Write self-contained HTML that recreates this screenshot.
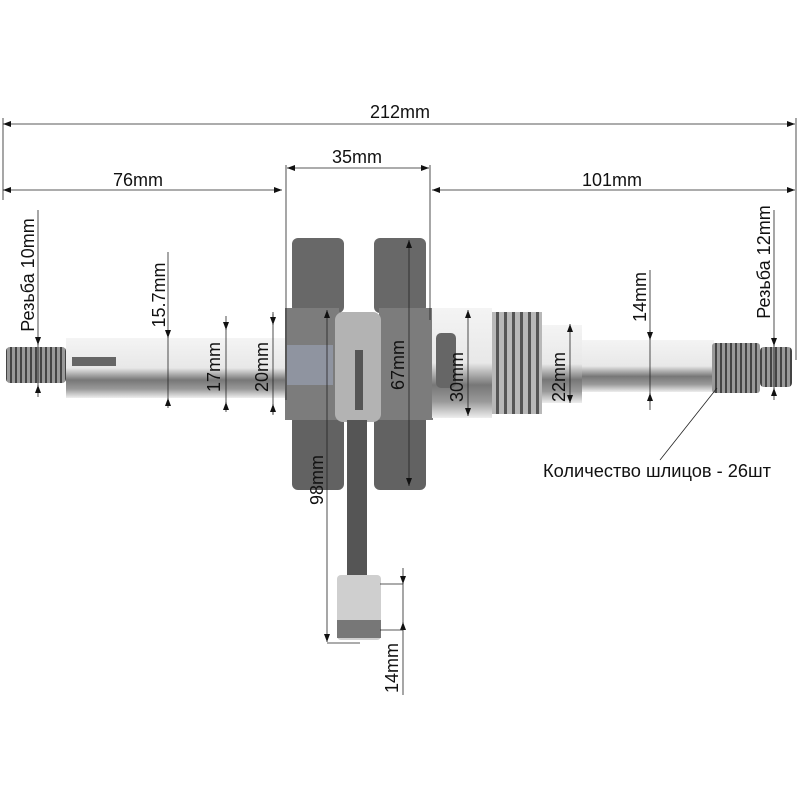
<!DOCTYPE html>
<html><head><meta charset="utf-8"><style>
html,body{margin:0;padding:0;background:#fff;}
svg{display:block;}
text{font-family:"Liberation Sans",sans-serif;font-size:18px;fill:#111;}
</style></head><body>
<svg width="800" height="800" viewBox="0 0 800 800" xmlns="http://www.w3.org/2000/svg">
<defs>
<linearGradient id="sh" x1="0" y1="0" x2="0" y2="1">
<stop offset="0" stop-color="#f4f4f4"/><stop offset="0.5" stop-color="#e8e8e8"/><stop offset="0.7" stop-color="#777"/><stop offset="0.85" stop-color="#999"/><stop offset="1" stop-color="#eee"/></linearGradient>
<pattern id="thr" width="5" height="10" patternUnits="userSpaceOnUse"><rect width="5" height="10" fill="#999"/><rect width="2" height="10" fill="#444"/></pattern>
<pattern id="thr2" width="8" height="10" patternUnits="userSpaceOnUse"><rect width="8" height="10" fill="#b8b8b8"/><rect width="3" height="10" fill="#555"/></pattern>
<marker id="a" markerWidth="8" markerHeight="6" refX="8" refY="3" orient="auto-start-reverse" markerUnits="userSpaceOnUse"><path d="M0,0 L8,3 L0,6z" fill="#111"/></marker>
</defs>
<rect x="66" y="338" width="222" height="60" fill="url(#sh)"/>
<rect x="72" y="357" width="44" height="9" fill="#666"/>
<rect x="6" y="347" width="60" height="36" rx="4" fill="url(#thr)"/>
<rect x="292" y="238" width="52" height="75" rx="6" fill="#686868"/>
<rect x="374" y="238" width="52" height="75" rx="6" fill="#686868"/>
<rect x="292" y="415" width="52" height="75" rx="6" fill="#626262"/>
<rect x="374" y="415" width="52" height="75" rx="6" fill="#626262"/>
<rect x="285" y="308" width="54" height="112" fill="#7c7c7c"/>
<rect x="379" y="308" width="54" height="112" fill="#7c7c7c"/>
<rect x="287" y="345" width="46" height="40" fill="#8f94a0"/>
<rect x="335" y="312" width="46" height="110" rx="8" fill="#b3b3b3"/>
<rect x="355" y="350" width="8" height="60" fill="#555"/>
<rect x="347" y="420" width="20" height="160" fill="#555"/>
<rect x="337" y="575" width="44" height="65" rx="4" fill="#cfcfcf"/>
<rect x="337" y="620" width="44" height="18" fill="#777"/>
<rect x="432" y="308" width="60" height="110" fill="url(#sh)"/>
<rect x="436" y="333" width="20" height="55" rx="5" fill="#666"/>
<rect x="492" y="312" width="50" height="102" fill="url(#thr2)"/>
<rect x="542" y="325" width="40" height="78" fill="url(#sh)"/>
<rect x="582" y="340" width="132" height="52" fill="url(#sh)"/>
<rect x="712" y="343" width="48" height="50" rx="3" fill="url(#thr)"/>
<rect x="760" y="347" width="32" height="40" rx="4" fill="url(#thr)"/>
<g stroke="#222" stroke-width="0.8" fill="none">
<line x1="3" y1="124" x2="795" y2="124" marker-start="url(#a)" marker-end="url(#a)"/>
<line x1="3" y1="190" x2="282" y2="190" marker-start="url(#a)" marker-end="url(#a)"/>
<line x1="287" y1="168" x2="429" y2="168" marker-start="url(#a)" marker-end="url(#a)"/>
<line x1="432" y1="190" x2="795" y2="190" marker-start="url(#a)" marker-end="url(#a)"/>
<line x1="286" y1="165" x2="286" y2="400"/>
<line x1="430" y1="165" x2="430" y2="320"/>
<line x1="3" y1="118" x2="3" y2="200"/>
<line x1="796" y1="118" x2="796" y2="360"/>
<line x1="38" y1="210" x2="38" y2="397"/>
<line x1="38" y1="338" x2="38" y2="345" marker-end="url(#a)"/>
<line x1="38" y1="392" x2="38" y2="385" marker-end="url(#a)"/>
<line x1="168" y1="252" x2="168" y2="408"/>
<line x1="168" y1="330" x2="168" y2="338" marker-end="url(#a)"/>
<line x1="168" y1="405" x2="168" y2="398" marker-end="url(#a)"/>
<line x1="226" y1="316" x2="226" y2="412"/>
<line x1="226" y1="322" x2="226" y2="330" marker-end="url(#a)"/>
<line x1="226" y1="410" x2="226" y2="402" marker-end="url(#a)"/>
<line x1="273" y1="312" x2="273" y2="415"/>
<line x1="273" y1="314" x2="273" y2="325" marker-end="url(#a)"/>
<line x1="273" y1="414" x2="273" y2="404" marker-end="url(#a)"/>
<line x1="409" y1="240" x2="409" y2="486" marker-start="url(#a)" marker-end="url(#a)"/>
<line x1="468" y1="310" x2="468" y2="416" marker-start="url(#a)" marker-end="url(#a)"/>
<line x1="570" y1="324" x2="570" y2="403" marker-start="url(#a)" marker-end="url(#a)"/>
<line x1="650" y1="270" x2="650" y2="410"/>
<line x1="650" y1="330" x2="650" y2="340" marker-end="url(#a)"/>
<line x1="650" y1="402" x2="650" y2="393" marker-end="url(#a)"/>
<line x1="774" y1="210" x2="774" y2="400"/>
<line x1="774" y1="337" x2="774" y2="346" marker-end="url(#a)"/>
<line x1="774" y1="395" x2="774" y2="388" marker-end="url(#a)"/>
<line x1="327" y1="310" x2="327" y2="642" marker-start="url(#a)" marker-end="url(#a)"/>
<line x1="327" y1="643" x2="360" y2="643"/>
<line x1="403" y1="568" x2="403" y2="695"/>
<line x1="403" y1="578" x2="403" y2="584" marker-end="url(#a)"/>
<line x1="403" y1="622" x2="403" y2="630" marker-start="url(#a)"/>
<line x1="380" y1="584" x2="403" y2="584"/>
<line x1="380" y1="630" x2="403" y2="630"/>
<line x1="717" y1="388" x2="660" y2="460"/>
</g>
<g text-anchor="middle">
<text x="400" y="118">212mm</text>
<text x="138" y="186">76mm</text>
<text x="357" y="163">35mm</text>
<text x="612" y="186">101mm</text>
<text transform="translate(34,275) rotate(-90)">Резьба 10mm</text>
<text transform="translate(165,295) rotate(-90)">15.7mm</text>
<text transform="translate(220,367) rotate(-90)">17mm</text>
<text transform="translate(268,367) rotate(-90)">20mm</text>
<text transform="translate(404,365) rotate(-90)">67mm</text>
<text transform="translate(463,377) rotate(-90)">30mm</text>
<text transform="translate(565,377) rotate(-90)">22mm</text>
<text transform="translate(646,297) rotate(-90)">14mm</text>
<text transform="translate(770,262) rotate(-90)">Резьба 12mm</text>
<text transform="translate(323,480) rotate(-90)">98mm</text>
<text transform="translate(398,668) rotate(-90)">14mm</text>
<text x="657" y="477" textLength="228" lengthAdjust="spacingAndGlyphs">Количество шлицов - 26шт</text>
</g>
</svg>
</body></html>
